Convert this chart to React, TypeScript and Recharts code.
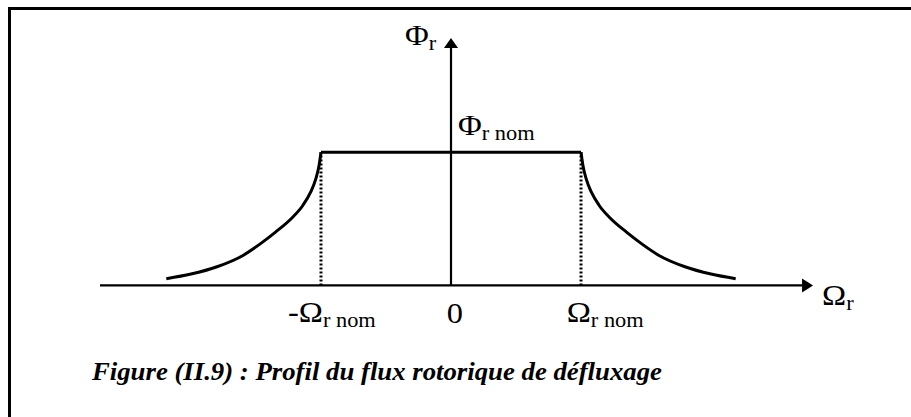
import React from 'react';
import { ComposedChart, Line, XAxis, YAxis, ReferenceLine, ReferenceDot } from 'recharts';

// Normalised units: x in Ω/Ωr nom, y in Φ/Φr nom
const plateau = [
  { x: -1, y: 1 },
  { x: 1, y: 1 },
];
const rightCurve = [
  { x: 1.0, y: 1.0 },
  { x: 1.015, y: 0.9 },
  { x: 1.04, y: 0.8 },
  { x: 1.08, y: 0.7 },
  { x: 1.14, y: 0.6 },
  { x: 1.22, y: 0.51 },
  { x: 1.35, y: 0.4 },
  { x: 1.47, y: 0.31 },
  { x: 1.6, y: 0.225 },
  { x: 1.8, y: 0.14 },
  { x: 2.0, y: 0.085 },
  { x: 2.19, y: 0.05 },
];
const leftCurve = rightCurve.map((p) => ({ x: -p.x, y: p.y })).reverse();

const axisX = { from: -2.7, to: 2.7, tip: 2.785 };
const axisY = { from: 0, to: 1.79, tip: 1.857 };
const nomX = [-1, 1];

const FONT = '"Liberation Serif", "Times New Roman", serif';

type Lbl = { x: number; y: number; main: string; sub?: string; anchor?: 'start' | 'middle' | 'end' };
const labels: Lbl[] = [
  { x: -0.354, y: 1.805, main: 'Φ', sub: 'r' },
  { x: 0.054, y: 1.128, main: 'Φ', sub: 'r nom' },
  { x: -1.254, y: -0.278, main: '-Ω', sub: 'r nom' },
  { x: 0.03, y: -0.285, main: '0', anchor: 'middle' },
  { x: 0.89, y: -0.278, main: 'Ω', sub: 'r nom' },
  { x: 2.854, y: -0.15, main: 'Ω', sub: 'r' },
];
const title = { x: -2.762, y: -0.707, text: 'Figure (II.9) : Profil du flux rotorique de défluxage' };

const LabelShape = (l: Lbl) => (props: any) => {
  const { cx, cy } = props;
  return (
    <g transform={`translate(${cx},${cy}) scale(1.12,1)`}>
      <text x={0} y={0} fontFamily={FONT} fontSize={29} fill="#000" textAnchor={l.anchor || 'start'}>
        {l.main}
        {l.sub ? (
          <tspan fontSize={20} dy={5}>
            {l.sub}
          </tspan>
        ) : null}
      </text>
    </g>
  );
};

const ArrowRight = (props: any) => {
  const { cx, cy } = props;
  return <polygon points={`${cx},${cy} ${cx - 11},${cy - 7} ${cx - 11},${cy + 7}`} fill="#000" />;
};
const ArrowUp = (props: any) => {
  const { cx, cy } = props;
  return <polygon points={`${cx},${cy} ${cx - 7},${cy + 10} ${cx + 7},${cy + 10}`} fill="#000" />;
};
const TitleShape = (props: any) => {
  const { cx, cy } = props;
  return (
    <text
      x={cx}
      y={cy}
      fontFamily={FONT}
      fontSize={26}
      fontWeight="bold"
      fontStyle="italic"
      fill="#000"
      textLength={570}
      lengthAdjust="spacingAndGlyphs"
    >
      {title.text}
    </text>
  );
};

export default function App() {
  return (
    <div style={{ position: 'absolute', left: 0, top: 0, width: 911, height: 417, background: '#fff' }}>
      <div
        style={{
          position: 'absolute',
          left: 8,
          top: 7,
          width: 903,
          height: 410,
          borderTop: '3px solid #000',
          borderLeft: '3px solid #000',
        }}
      />
      <div style={{ position: 'absolute', left: 0, top: 0 }}>
        <ComposedChart width={911} height={417} margin={{ left: 61, right: 70, top: 19, bottom: 65 }}>
          <XAxis type="number" dataKey="x" domain={[-3, 3]} hide allowDataOverflow />
          <YAxis type="number" dataKey="y" domain={[-0.5, 2]} hide allowDataOverflow />
          <ReferenceLine
            segment={[{ x: axisX.from, y: 0 }, { x: axisX.to, y: 0 }]}
            stroke="#000"
            strokeWidth={2.2}
            strokeOpacity={1}
            ifOverflow="visible"
          />
          <ReferenceLine
            segment={[{ x: 0, y: axisY.from }, { x: 0, y: axisY.to }]}
            stroke="#000"
            strokeWidth={2.2}
            strokeOpacity={1}
            ifOverflow="visible"
          />
          {nomX.map((v) => (
            <ReferenceLine
              key={v}
              segment={[{ x: v, y: 0 }, { x: v, y: 1 }]}
              stroke="#000"
              strokeWidth={3}
              strokeOpacity={1}
              strokeDasharray="2 2"
              ifOverflow="visible"
            />
          ))}
          <Line data={plateau} dataKey="y" type="linear" stroke="#000" strokeWidth={3} dot={false} isAnimationActive={false} />
          <Line data={leftCurve} dataKey="y" type="monotone" stroke="#000" strokeWidth={3} dot={false} isAnimationActive={false} />
          <Line data={rightCurve} dataKey="y" type="monotone" stroke="#000" strokeWidth={3} dot={false} isAnimationActive={false} />
          <ReferenceDot x={axisX.tip} y={0} r={0} shape={ArrowRight} ifOverflow="visible" />
          <ReferenceDot x={0} y={axisY.tip} r={0} shape={ArrowUp} ifOverflow="visible" />
          {labels.map((l, i) => (
            <ReferenceDot key={i} x={l.x} y={l.y} r={0} shape={LabelShape(l)} ifOverflow="visible" />
          ))}
          <ReferenceDot x={title.x} y={title.y} r={0} shape={TitleShape} ifOverflow="visible" />
        </ComposedChart>
      </div>
    </div>
  );
}
